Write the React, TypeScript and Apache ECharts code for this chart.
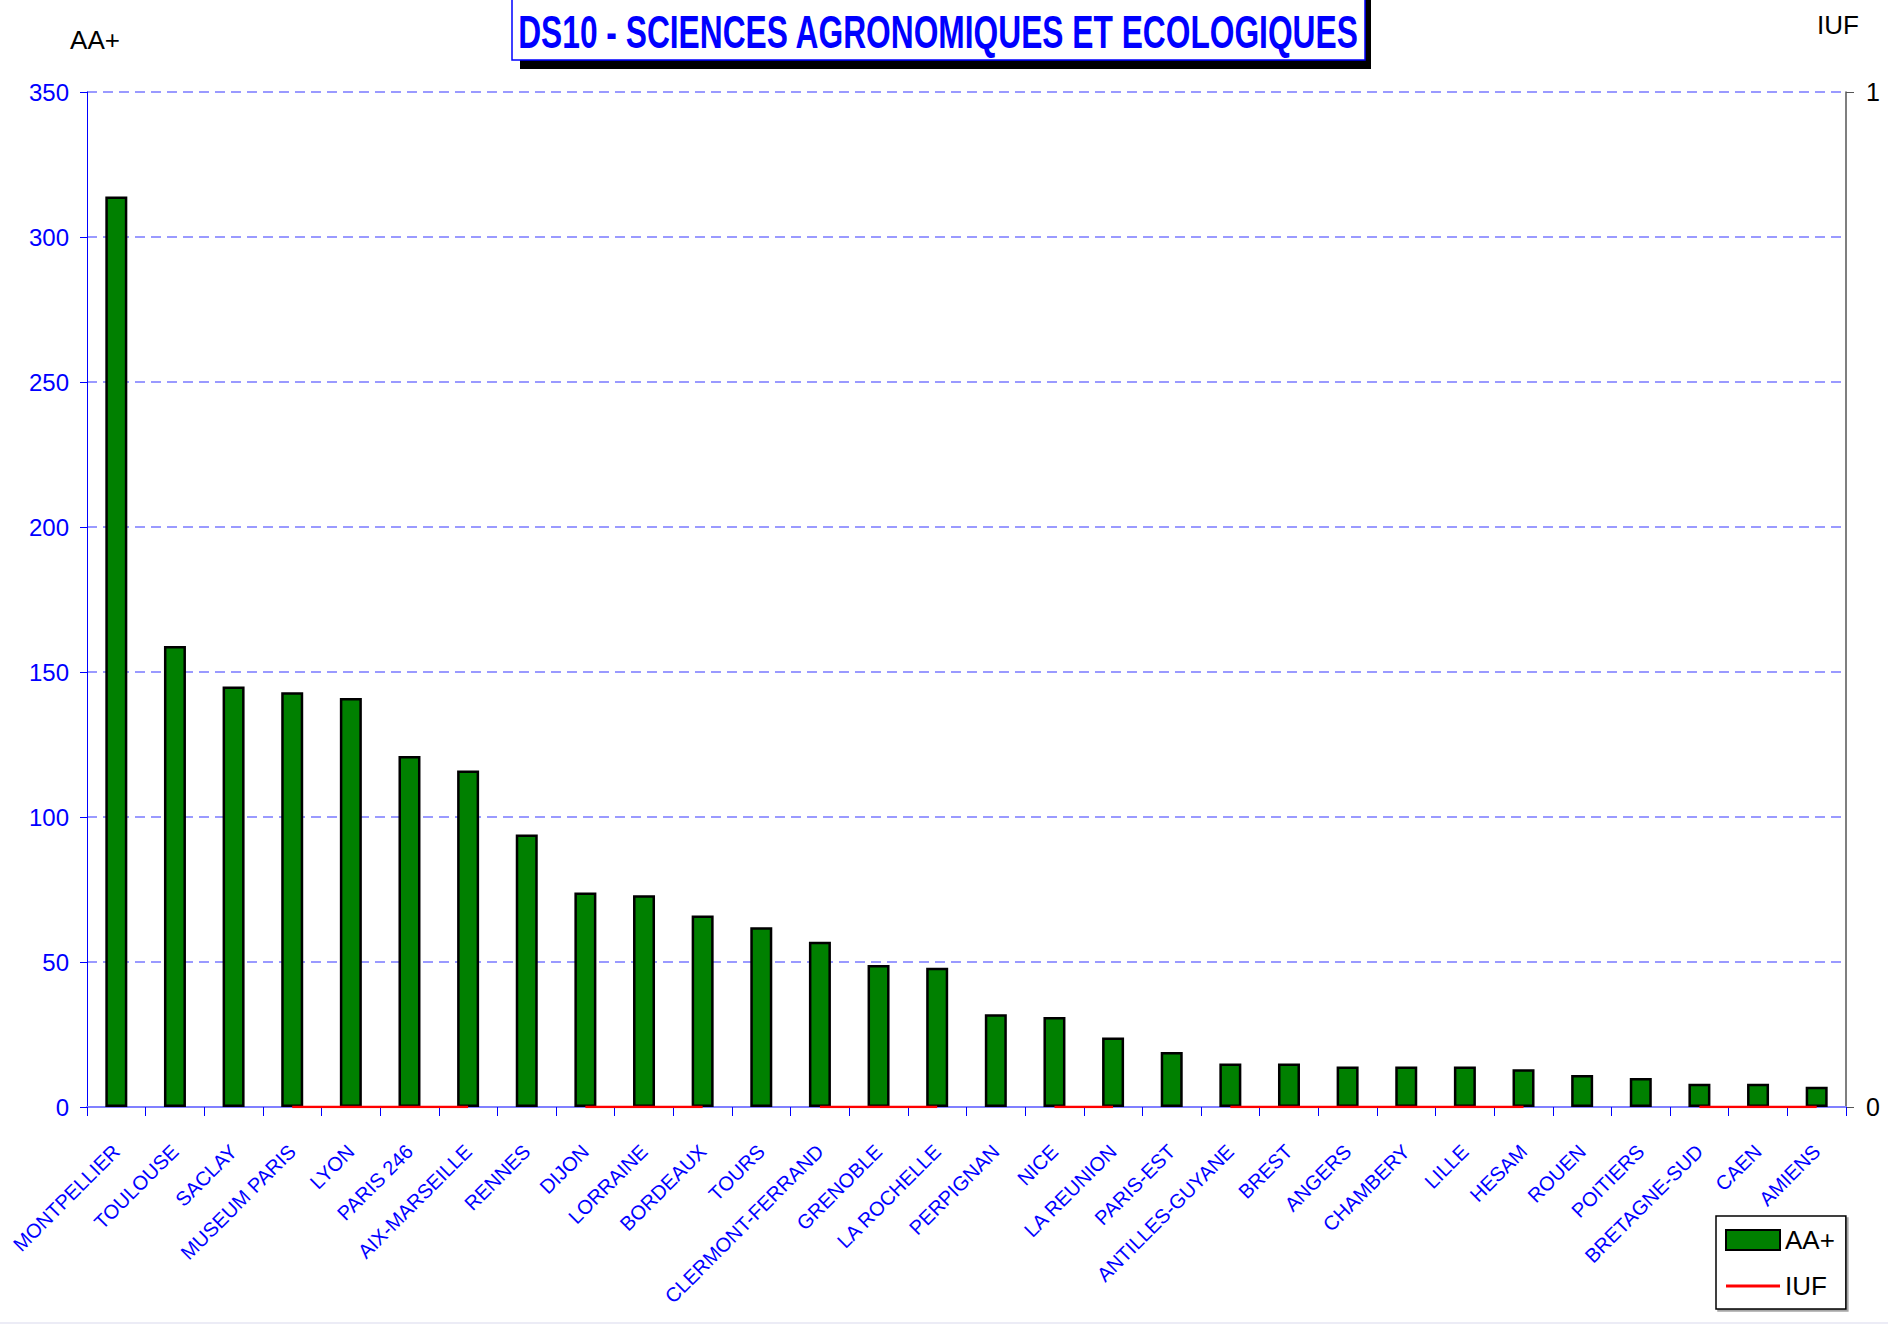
import React, { useEffect, useRef } from "react";
import * as echarts from "echarts";

const categories = [
  "MONTPELLIER", "TOULOUSE", "SACLAY", "MUSEUM PARIS", "LYON", "PARIS 246",
  "AIX-MARSEILLE", "RENNES", "DIJON", "LORRAINE", "BORDEAUX", "TOURS",
  "CLERMONT-FERRAND", "GRENOBLE", "LA ROCHELLE", "PERPIGNAN", "NICE",
  "LA REUNION", "PARIS-EST", "ANTILLES-GUYANE", "BREST", "ANGERS",
  "CHAMBERY", "LILLE", "HESAM", "ROUEN", "POITIERS", "BRETAGNE-SUD",
  "CAEN", "AMIENS",
];

const aaPlus = [
  314, 159, 145, 143, 141, 121, 116, 94, 74, 73, 66, 62, 57, 49, 48, 32, 31,
  24, 19, 15, 15, 14, 14, 14, 13, 11, 10, 8, 8, 7,
];

const iuf: (number | null)[] = [
  null, null, null, 0, 0, 0, 0, null, 0, 0, 0, null, 0, 0, 0, null, 0, 0,
  null, 0, 0, 0, 0, 0, 0, null, null, 0, 0, 0,
];

const leftMin = 0;
const leftMax = 350;
const leftInterval = 50;
const rightMin = 0;
const rightMax = 1;
const rightInterval = 1;

const titleText = "DS10 - SCIENCES AGRONOMIQUES ET ECOLOGIQUES";
const FONT = "'Liberation Sans', Arial, sans-serif";

export default function App() {
  const ref = useRef<HTMLDivElement>(null);

  useEffect(() => {
    if (!ref.current) return;
    const chart = echarts.init(ref.current, undefined, { renderer: "svg" });
    chart.setOption({
      animation: false,
      backgroundColor: "#ffffff",
      textStyle: { fontFamily: FONT },
      grid: { left: 87, right: 42, top: 92, bottom: 219, containLabel: false },
      legend: {
        orient: "vertical",
        left: 1716,
        top: 1216,
        padding: [11, 11, 10, 9],
        itemWidth: 54,
        itemHeight: 20,
        itemGap: 20,
        borderColor: "#000000",
        borderWidth: 1.5,
        backgroundColor: "#ffffff",
        shadowColor: "rgba(0,0,0,0.35)",
        shadowOffsetX: 2,
        shadowOffsetY: 2,
        shadowBlur: 1,
        textStyle: { color: "#000000", fontSize: 26, fontFamily: FONT },
        data: [
          { name: "AA+", icon: "rect" },
          { name: "IUF", icon: "path://M0 0 H54 V3 H0 Z" },
        ],
      },
      xAxis: {
        type: "category",
        data: categories,
        boundaryGap: true,
        axisLine: { lineStyle: { color: "#8080ff", width: 2 } },
        axisTick: {
          show: true,
          length: 9,
          alignWithLabel: false,
          lineStyle: { color: "#0000ff", width: 1 },
        },
        axisLabel: {
          interval: 0,
          rotate: 45,
          margin: 41,
          color: "#0000ff",
          fontSize: 20,
          fontFamily: FONT,
        },
        splitLine: { show: false },
      },
      yAxis: [
        {
          type: "value",
          min: leftMin,
          max: leftMax,
          interval: leftInterval,
          position: "left",
          axisLine: { show: true, lineStyle: { color: "#0000ff", width: 1 } },
          axisTick: { show: true, length: 7, lineStyle: { color: "#0000ff" } },
          axisLabel: { color: "#0000ff", fontSize: 24, margin: 18, fontFamily: FONT },
          splitLine: {
            show: true,
            lineStyle: { color: "#7a7aff", width: 1.5, type: [10, 6] },
          },
        },
        {
          type: "value",
          min: rightMin,
          max: rightMax,
          interval: rightInterval,
          position: "right",
          axisLine: { show: true, lineStyle: { color: "#555555", width: 1.5 } },
          axisTick: { show: true, length: 8, lineStyle: { color: "#555555" } },
          axisLabel: { color: "#000000", fontSize: 25, margin: 20, fontFamily: FONT },
          splitLine: { show: false },
        },
      ],
      series: [
        {
          name: "AA+",
          type: "bar",
          data: aaPlus,
          yAxisIndex: 0,
          barWidth: 22,
          z: 2,
          itemStyle: {
            color: "#008000",
            borderColor: "#000000",
            borderWidth: 2.5,
          },
        },
        {
          name: "IUF",
          type: "line",
          data: iuf,
          yAxisIndex: 1,
          symbol: "none",
          showSymbol: false,
          connectNulls: false,
          z: 4,
          lineStyle: { color: "#ff0000", width: 2.5 },
          itemStyle: { color: "#ff0000" },
        },
      ],
      graphic: [
        {
          type: "rect",
          shape: { x: 520, y: -4, width: 851, height: 73 },
          style: { fill: "#000000" },
          z: 10,
        },
        {
          type: "rect",
          shape: { x: 512, y: -4, width: 853, height: 64 },
          style: { fill: "#ffffff", stroke: "#0000ff", lineWidth: 1.5 },
          z: 11,
        },
        {
          type: "text",
          x: 938,
          y: 32,
          scaleX: 0.69,
          z: 12,
          style: {
            text: titleText,
            fontSize: 46,
            fontWeight: "bold",
            fontFamily: FONT,
            fill: "#0000ff",
            align: "center",
            verticalAlign: "middle",
          },
        },
        {
          type: "text",
          x: 95,
          y: 40,
          z: 12,
          style: {
            text: "AA+",
            fontSize: 26,
            fontFamily: FONT,
            fill: "#000000",
            align: "center",
            verticalAlign: "middle",
          },
        },
        {
          type: "text",
          x: 1838,
          y: 25,
          z: 12,
          style: {
            text: "IUF",
            fontSize: 26,
            fontFamily: FONT,
            fill: "#000000",
            align: "center",
            verticalAlign: "middle",
          },
        },
        {
          type: "rect",
          shape: { x: 0, y: 1322, width: 1888, height: 2 },
          style: { fill: "#ececf6" },
          z: 1,
        },
      ],
    });
    return () => chart.dispose();
  }, []);

  return (
    <div
      ref={ref}
      style={{
        position: "absolute",
        left: 0,
        top: 0,
        width: 1888,
        height: 1326,
        background: "#ffffff",
      }}
    />
  );
}
